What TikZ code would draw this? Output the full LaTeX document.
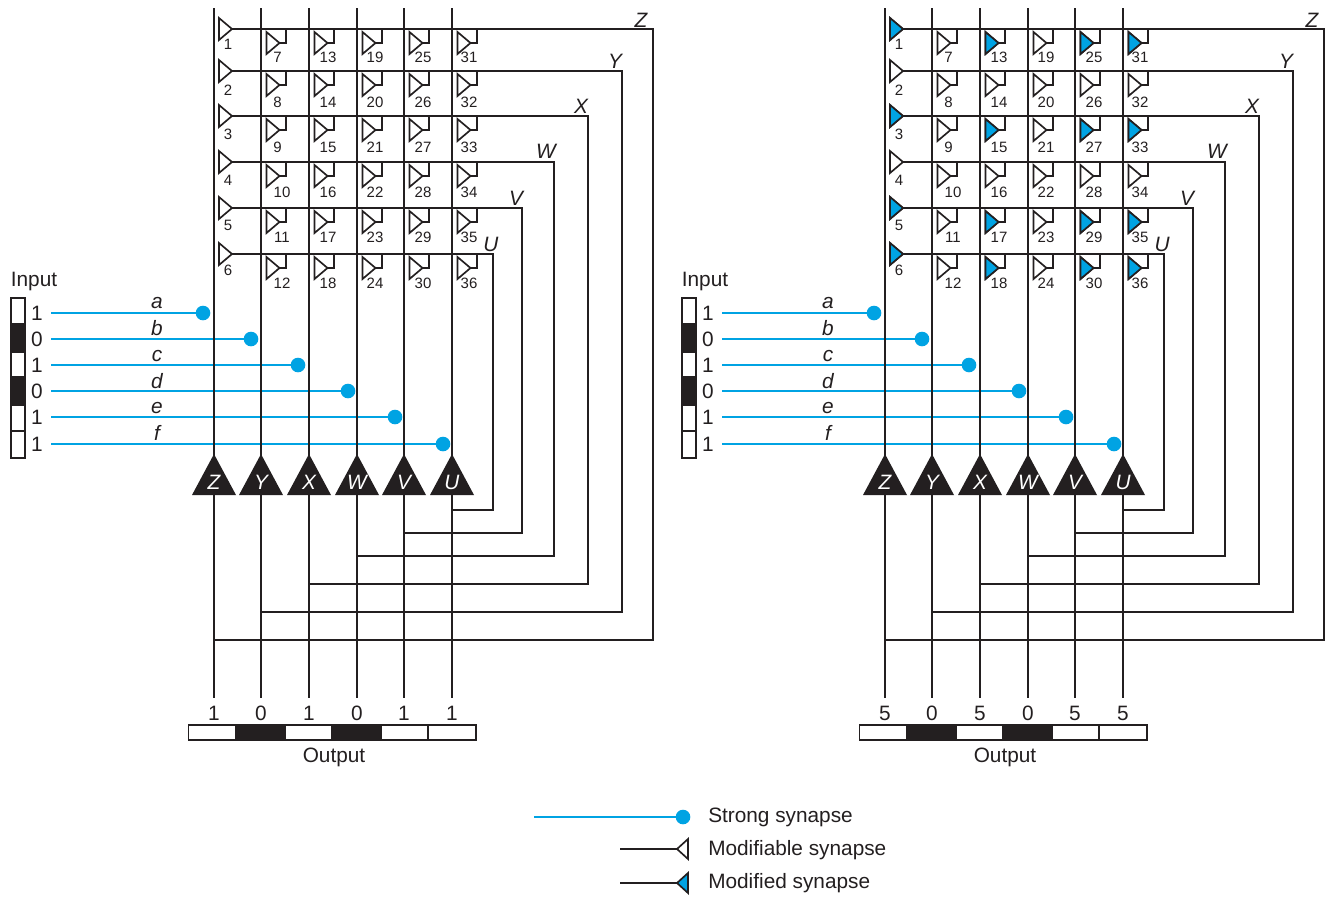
\documentclass[tikz,border=0pt]{standalone}
\usepackage{fontspec}
\setmainfont{Liberation Sans}
\definecolor{syn}{HTML}{00A3E3}
\definecolor{ink}{HTML}{231F20}
\tikzset{
  wire/.style={draw=ink,line width=1.25pt},
  strong/.style={draw=syn,line width=2.2pt},
  dot/.style={fill=syn,draw=none},
  synw/.style={draw=ink,line width=1.25pt,fill=white,line join=miter},
  synb/.style={draw=ink,line width=1.25pt,fill=syn,line join=miter},
  cell/.style={draw=ink,line width=0.9pt,fill=white},
  cellk/.style={draw=ink,line width=0.9pt,fill=ink},
  big/.style={inner sep=0pt,text=ink,font=\fontsize{15.6}{18}\selectfont},
  small/.style={inner sep=0pt,text=ink,font=\fontsize{11.25}{13}\selectfont},
  ital/.style={inner sep=0pt,text=ink,font=\fontsize{15.6}{18}\selectfont\itshape},
  nlab/.style={inner sep=0pt,text=white,font=\fontsize{15.6}{18}\selectfont\itshape},
}
\newcommand{\synshape}[2]{\path[#2] (#1) ++(-13,-11) -- ++(13,11) -- ++(-13,11) -- cycle;}
\newcommand{\panel}[3]{%
 \begin{scope}[xshift=#2*0.75pt]
  % columns
  \foreach \c/\x in {1/214,2/261,3/309,4/357,5/404,6/452}{
    \coordinate (#1-top-\c) at (\x,8);
    \coordinate (#1-apex-\c) at (\x,456);
    \coordinate (#1-base-\c) at (\x,495);
    \coordinate (#1-end-\c) at (\x,698);
  }
  % input
  \foreach \a/\b/\s in {298/324/cell,324/352/cellk,352/377/cell,377/405/cellk,405/431/cell,431/458/cell}{
    \path[\s] (11,\a) rectangle (25,\b);
  }
  \node[big] (#1-input) at (34,281) {Input};
  \foreach \i/\y/\v/\dx/\lab/\ly in {1/313/1/203/a/303,2/339/0/251/b/328,3/365/1/298/c/356,4/391/0/348/d/381,5/417/1/395/e/408,6/444/1/443/f/433}{
    \node[big] (#1-ib-\i) at (37,\y) {\v};
    \coordinate (#1-is-\i) at (51,\y);
    \coordinate (#1-id-\i) at (\dx,\y);
    \draw[strong] (#1-is-\i) -- (#1-id-\i);
    \fill[dot] (#1-id-\i) circle (7.3);
    \node[ital] (#1-il-\i) at (157,\ly) {\lab};
  }
  % buses
  \foreach \c/\n/\y/\xr/\yb/\lx/\ly in {1/Z/29/653/640/641/20,2/Y/71/622/612/615/61,3/X/116/588/584/581/106,4/W/162/554/556/546/151,5/V/208/522/533/516/198,6/U/254/493/510/491/244}{
    \coordinate (#1-bs-\c) at (232,\y);
    \coordinate (#1-bc-\c) at (\xr,\y);
    \coordinate (#1-bd-\c) at (\xr,\yb);
    \draw[wire] (#1-top-\c) -- (#1-apex-\c);
    \draw[wire] (#1-base-\c) -- (#1-end-\c);
    \coordinate (#1-bj-\c) at (#1-base-\c |- #1-bd-\c);
    \draw[wire] (#1-bs-\c) -- (#1-bc-\c) -- (#1-bd-\c) -- (#1-bj-\c);
    \node[ital] (#1-bl-\c) at (\lx,\ly) {\n};
    \fill[ink] (#1-apex-\c) ++(0,-2) -- ++(22,41) -- ++(-44,0) -- cycle;
    \coordinate (#1-nc-\c) at (\lx,482);
    \node[nlab] (#1-nl-\c) at (#1-apex-\c |- #1-nc-\c) {\n};
  }
  % first column synapses
  \foreach \r/\ly in {1/44,2/90,3/134,4/180,5/225,6/270}{
    \coordinate (#1-syn-\r) at (#1-bs-\r);
    \synshape{#1-syn-\r}{synw}
    \node[small] (#1-sl-\r) at (228,\ly) {\r};
  }
  % other synapses
  \foreach \c/\x/\o in {2/261/19,3/309/19,4/357/18,5/404/19,6/452/17}{
    \foreach \r/\y/\ly in {1/29/57,2/71/102,3/116/147,4/162/192,5/208/237,6/254/283}{
      \pgfmathtruncatemacro{\n}{(\c-1)*6+\r}
      \coordinate (#1-syn-\n) at ({\x+18.5},{\y+14});
      \coordinate (#1-st-\n) at ({\x+25},{\y+14});
      \coordinate (#1-su-\n) at ({\x+25},\y);
      \draw[wire] (#1-syn-\n) -- (#1-st-\n) -- (#1-su-\n);
      \synshape{#1-syn-\n}{synw}
      \pgfmathsetmacro{\lxx}{\n<10 ? \x+16.5 : (\n<13 ? \x+21 : \x+\o)}
      \node[small] (#1-sl-\n) at (\lxx,\ly) {\n};
    }
  }
  % output
  \foreach \a/\b/\s in {188.5/236/cell,236/285/cellk,285/332/cell,332/381/cellk,381/428/cell,428/476/cell}{
    \path[\s] (\a,725) rectangle (\b,740);
  }
  \foreach \c/\v in {#3}{
    \coordinate (#1-ovc-\c) at (0,713);
    \node[big] (#1-ov-\c) at (#1-end-\c |- #1-ovc-\c) {\v};
  }
  \node[big] (#1-output) at (334,757) {Output};
 \end{scope}}
\begin{document}
\begin{tikzpicture}[x=0.75pt,y=-0.75pt]
\useasboundingbox (0,0) rectangle (1326,896);
\fill[white] (0,0) rectangle (1326,896);
\panel{L}{0}{1/1,2/0,3/1,4/0,5/1,6/1}
\panel{R}{671}{1/5,2/0,3/5,4/0,5/5,6/5}
\foreach \n in {1,3,5,6,13,15,17,18,25,27,29,30,31,33,35,36}{\synshape{R-syn-\n}{synb}}
% legend
\coordinate (k1a) at (534,817);
\coordinate (k1b) at (683,817);
\draw[strong] (k1a) -- (k1b);
\fill[dot] (k1b) circle (7.3);
\node[big,anchor=west] (k1t) at (708,817) {Strong synapse};
\coordinate (k2a) at (620,849);
\coordinate (k2b) at (677,849);
\draw[wire] (k2a) -- (k2b);
\path[synw] (k2b) -- ++(11,-10) -- ++(0,20) -- cycle;
\node[big,anchor=west] (k2t) at (708,850) {Modifiable synapse};
\coordinate (k3a) at (620,883);
\coordinate (k3b) at (677,883);
\draw[wire] (k3a) -- (k3b);
\path[synb] (k3b) -- ++(11,-10) -- ++(0,20) -- cycle;
\node[big,anchor=west] (k3t) at (708,883) {Modified synapse};
\end{tikzpicture}
\end{document}
